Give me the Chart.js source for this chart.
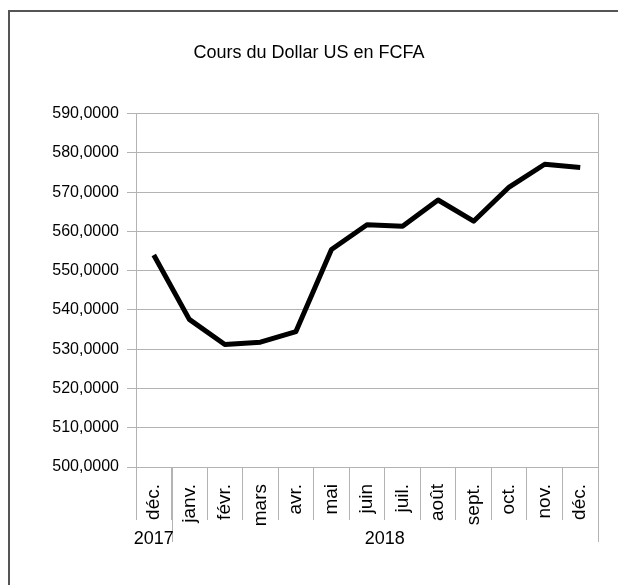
<!DOCTYPE html>
<html>
<head>
<meta charset="utf-8">
<title>Cours du Dollar US en FCFA</title>
<script src="https://cdn.jsdelivr.net/npm/chart.js@4/dist/chart.umd.min.js"></script>
<style>
  body { margin: 0; background: #fff; }
  #wrap { width: 618px; height: 585px; }
</style>
</head>
<body>
<div id="wrap"><canvas id="coursChart" width="618" height="585"></canvas></div>
<script>
// Cours mensuel du dollar US en FCFA (déc. 2017 - déc. 2018)
const months = ['déc.', 'janv.', 'févr.', 'mars', 'avr.', 'mai', 'juin', 'juil.', 'août', 'sept.', 'oct.', 'nov.', 'déc.'];
const years = ['2017', '2018'];
const monthsPerYear = [1, 12];
const cours = [554.0, 537.6, 531.2, 531.8, 534.5, 555.4, 561.7, 561.3, 568.0, 562.6, 571.3, 577.1, 576.3];
const yTicks = [500, 510, 520, 530, 540, 550, 560, 570, 580, 590];

const FONT = '"Liberation Sans", Arial, sans-serif';
const GRID = '#b3b3b3';

// Frame, plot edge and the year row under the month labels
const framePlugin = {
    id: 'frame',
    beforeDraw(chart) {
        const ctx = chart.ctx;
        ctx.save();
        ctx.strokeStyle = '#555';
        ctx.lineWidth = 2;
        ctx.beginPath();
        ctx.moveTo(9, 585);
        ctx.lineTo(9, 11);
        ctx.lineTo(618, 11);
        ctx.stroke();
        ctx.restore();
    },
    beforeDatasetsDraw(chart) {
        const ctx = chart.ctx;
        const area = chart.chartArea;
        const x = chart.scales.x;

        ctx.save();
        ctx.strokeStyle = GRID;
        ctx.lineWidth = 1;

        // right edge of the plot
        ctx.beginPath();
        ctx.moveTo(Math.round(area.right) + 0.5, area.top);
        ctx.lineTo(Math.round(area.right) + 0.5, area.bottom);
        ctx.stroke();

        // year separators and labels
        ctx.fillStyle = '#000';
        ctx.font = '18px ' + FONT;
        ctx.textAlign = 'center';
        ctx.textBaseline = 'middle';
        let start = 0;
        years.forEach((year, i) => {
            const end = start + monthsPerYear[i];
            const left = x.getPixelForValue(start - 0.5);
            const right = x.getPixelForValue(end - 0.5);
            ctx.beginPath();
            ctx.moveTo(Math.round(right) + 0.5, area.bottom);
            ctx.lineTo(Math.round(right) + 0.5, area.bottom + 75);
            ctx.stroke();
            ctx.fillText(year, (left + right) / 2, area.bottom + 72);
            start = end;
        });
        ctx.restore();
    }
};

new Chart(document.getElementById('coursChart'), {
    type: 'line',
    data: {
        labels: months,
        datasets: [{
            label: 'Cours du Dollar US en FCFA',
            data: cours,
            borderColor: '#000',
            borderWidth: 5,
            borderJoinStyle: 'round',
            pointRadius: 0,
            tension: 0,
            fill: false
        }]
    },
    options: {
        responsive: false,
        animation: false,
        layout: { padding: { left: 20, right: 20, top: 0, bottom: 0 } },
        plugins: {
            legend: { display: false },
            tooltip: { enabled: false },
            title: {
                display: true,
                text: 'Cours du Dollar US en FCFA',
                color: '#000',
                font: { family: FONT, size: 18, weight: 'normal' },
                padding: { top: 42, bottom: 50 }
            }
        },
        scales: {
            x: {
                offset: true,
                border: { color: GRID },
                grid: {
                    offset: true,
                    drawOnChartArea: false,
                    color: GRID,
                    tickLength: 53
                },
                ticks: {
                    color: '#000',
                    font: { family: FONT, size: 19 },
                    minRotation: 90,
                    maxRotation: 90,
                    autoSkip: false,
                    padding: -36
                },
                afterFit(scale) { scale.height = 118; }
            },
            y: {
                min: 500,
                max: 590,
                border: { color: GRID },
                grid: { color: GRID, tickLength: 9 },
                afterBuildTicks(scale) { scale.ticks = yTicks.map(v => ({ value: v })); },
                ticks: {
                    color: '#000',
                    font: { family: FONT, size: 16 },
                    padding: 8,
                    callback: v => v.toFixed(4).replace('.', ',')
                },
                afterFit(scale) { scale.width = 116; }
            }
        }
    },
    plugins: [framePlugin]
});
</script>
</body>
</html>
